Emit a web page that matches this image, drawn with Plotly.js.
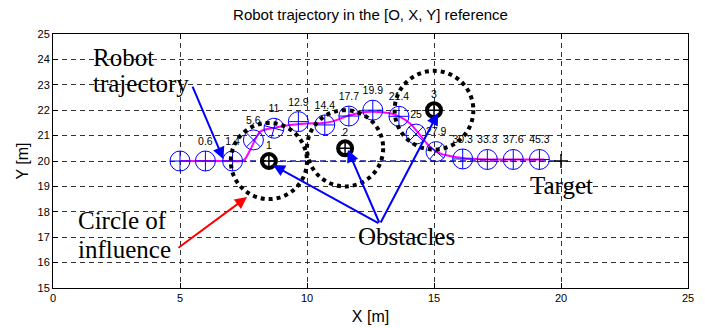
<!DOCTYPE html>
<html>
<head>
<meta charset="utf-8">
<script src="https://cdn.plot.ly/plotly-3.0.1.min.js"></script>
<style>html,body{margin:0;padding:0;background:#fff;}#chart{width:705px;height:328px;}</style>
</head>
<body>
<div id="chart"></div>
<script>
// ---- data ----
var robotX = [5.0, 6.0, 7.07, 7.89, 8.7, 9.66, 10.7, 11.65, 12.59, 13.62, 14.29, 15.08, 16.13, 17.1, 18.12, 19.15];
var robotY = [20.0, 20.0, 20.0, 20.83, 21.29, 21.55, 21.42, 21.77, 22.0, 21.76, 21.06, 20.37, 20.08, 20.06, 20.06, 20.06];
var robotHeading = [0, 0, 0, 45, 15, 0, 0, 0, 0, 0, 45, 40, 0, 0, 0, 0];
var robotTimes = ["", "0.6", "1.4", "5.6", "11", "12.9", "14.4", "17.7", "19.9", "21.4", "25", "27.9", "30.3", "33.3", "37.6", "45.3"];

var trajX = [5, 6, 7, 7.5, 7.76, 8.15, 8.66, 9.33, 9.99, 10.63, 10.97, 11.7, 12.48, 13.27, 13.66, 14.06, 14.45, 14.84, 15.24, 15.89, 16.81, 18.0, 19.35];
var trajY = [20, 20, 20, 20.02, 20.43, 21.15, 21.3, 21.42, 21.48, 21.5, 21.55, 21.81, 21.94, 21.88, 21.74, 21.48, 21.02, 20.56, 20.3, 20.15, 20.07, 20.06, 20.06];

var refX = [5, 20];
var refY = [20, 20];

var obsX = [8.5, 11.5, 15.0];
var obsY = [20.0, 20.5, 22.0];
var obsR = [1.5, 1.5, 1.55];
var obsLabels = ["1", "2", "3"];

var targetX = [20];
var targetY = [20];

var xTicks = [0, 5, 10, 15, 20, 25];
var yTicks = [15, 16, 17, 18, 19, 20, 21, 22, 23, 24, 25];

// ---- annotation anchors (data coords) ----
var noteTexts = ["Robot", "trajectory", "Circle of", "influence", "Obstacles", "Target"];
var noteX = [1.50, 1.50, 0.91, 0.91, 11.93, 18.70];
var noteY = [24.07, 23.05, 17.66, 16.53, 17.03, 19.04];

var arrowTailX = [5.47, 4.88, 12.87, 12.87, 12.87];
var arrowTailY = [22.99, 16.54, 17.52, 17.52, 17.52];
var arrowHeadX = [6.71, 7.64, 8.66, 11.61, 15.16];
var arrowHeadY = [20.07, 18.58, 19.84, 20.43, 21.89];
var arrowColors = ["#0000ff", "#ff0000", "#0000ff", "#0000ff", "#0000ff"];

// ---- traces ----
var sans = 'Liberation Sans, Arial, sans-serif';
var traces = [
  {x: refX, y: refY, mode: 'lines', line: {color: '#1a1aa6', width: 1.5, dash: '6px,4px'}, hoverinfo: 'skip'},
  {x: trajX, y: trajY, mode: 'lines', line: {color: '#ff00ff', width: 2, shape: 'spline', smoothing: 0.8}, hoverinfo: 'skip'},
  {x: robotX, y: robotY, mode: 'markers+text', text: robotTimes, textposition: 'top center',
   textfont: {family: sans, size: 10.5, color: '#000'},
   marker: {symbol: 'circle-cross-open', size: 20, angle: robotHeading, color: '#0000ff', line: {color: '#0000ff', width: 1}},
   hoverinfo: 'skip'},
  {x: obsX, y: obsY, mode: 'markers+text', text: obsLabels, textposition: 'top center',
   textfont: {family: sans, size: 10.5, color: '#000'},
   marker: {symbol: 'circle-open', size: 14, color: '#000', line: {color: '#000', width: 4}}, hoverinfo: 'skip'},
  {x: obsX, y: obsY, mode: 'markers',
   marker: {symbol: 'cross-thin-open', size: 8, color: '#000', line: {color: '#000', width: 1.5}}, hoverinfo: 'skip'},
  {x: targetX, y: targetY, mode: 'markers',
   marker: {symbol: 'cross-thin-open', size: 10, color: '#000', line: {color: '#000', width: 1.5}}, hoverinfo: 'skip'}
];

// circles of influence
var shapes = obsX.map(function (cx, i) {
  return {type: 'circle', xref: 'x', yref: 'y',
    x0: cx - obsR[i], x1: cx + obsR[i], y0: obsY[i] - obsR[i], y1: obsY[i] + obsR[i],
    line: {color: '#000', width: 4, dash: 'dot'}, layer: 'above'};
});

var serif = 'Liberation Serif, Times New Roman, serif';
var annotations = noteTexts.map(function (t, i) {
  return {x: noteX[i], y: noteY[i], xref: 'x', yref: 'y', text: t, showarrow: false,
    xanchor: 'left', yanchor: 'middle', align: 'left',
    font: {family: serif, size: 25, color: '#000'}};
});
arrowHeadX.forEach(function (hx, i) {
  annotations.push({x: hx, y: arrowHeadY[i], ax: arrowTailX[i], ay: arrowTailY[i],
    xref: 'x', yref: 'y', axref: 'x', ayref: 'y', text: '', showarrow: true,
    arrowhead: 2, arrowsize: 1.2, arrowwidth: 2, arrowcolor: arrowColors[i], standoff: 0});
});

var axisCommon = {
  showgrid: true, gridcolor: '#333', griddash: '5px,4px', gridwidth: 1,
  showline: true, linecolor: '#000', linewidth: 1, mirror: 'ticks',
  ticks: 'inside', ticklen: 5, tickcolor: '#000', zeroline: false,
  tickfont: {family: sans, size: 11, color: '#000'}
};

var layout = {
  width: 705, height: 328,
  margin: {l: 53, r: 17, t: 34, b: 40, pad: 0},
  paper_bgcolor: '#fff', plot_bgcolor: '#fff',
  showlegend: false,
  title: {text: 'Robot trajectory in the [O, X, Y] reference', x: 0.5, xref: 'paper',
    y: 0.955, yref: 'container', yanchor: 'middle',
    font: {family: sans, size: 15, color: '#000'}},
  xaxis: Object.assign({}, axisCommon, {range: [0, 25], tickvals: xTicks, ticktext: xTicks.map(String),
    title: {text: 'X [m]', standoff: 7, font: {family: sans, size: 16, color: '#000'}}}),
  yaxis: Object.assign({}, axisCommon, {range: [15, 25], tickvals: yTicks, ticktext: yTicks.map(String),
    title: {text: 'Y [m]', standoff: 4, font: {family: sans, size: 16, color: '#000'}}}),
  shapes: shapes,
  annotations: annotations
};

Plotly.newPlot('chart', traces, layout, {staticPlot: true, displayModeBar: false});
</script>
</body>
</html>
